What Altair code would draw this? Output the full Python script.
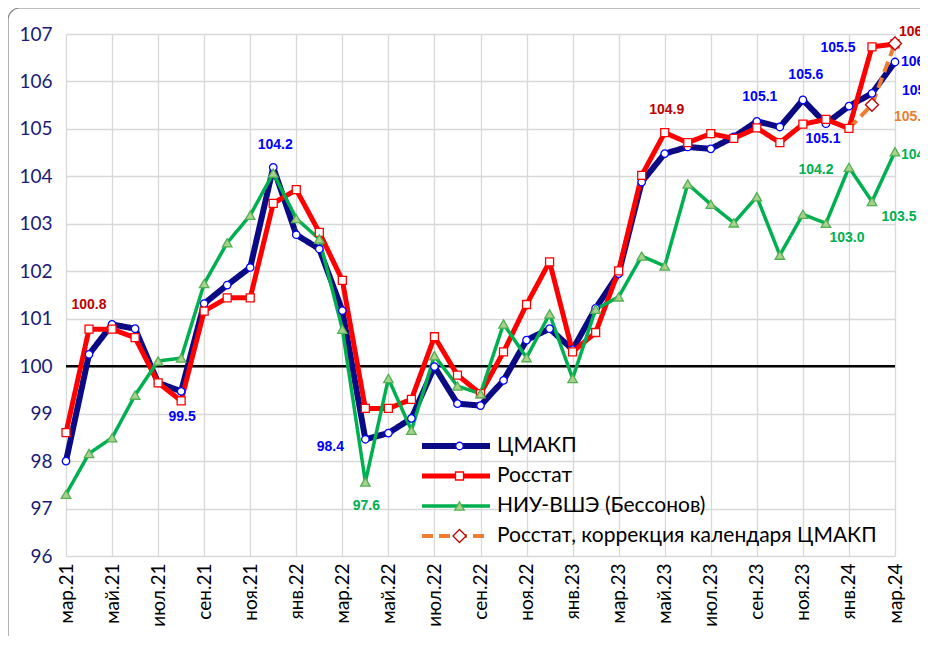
import altair as alt
import pandas as pd

months = ["мар.21", "апр.21", "май.21", "июн.21", "июл.21", "авг.21", "сен.21", "окт.21",
          "ноя.21", "дек.21", "янв.22", "фев.22", "мар.22", "апр.22", "май.22", "июн.22",
          "июл.22", "авг.22", "сен.22", "окт.22", "ноя.22", "дек.22", "янв.23", "фев.23",
          "мар.23", "апр.23", "май.23", "июн.23", "июл.23", "авг.23", "сен.23", "окт.23",
          "ноя.23", "дек.23", "янв.24", "фев.24", "мар.24"]
tick_labels = months[::2]
y_ticks = list(range(96, 108))

cmakp = [98.0, 100.25, 100.88, 100.79, 99.65, 99.47, 101.32, 101.71, 102.08, 104.19,
         102.77, 102.47, 101.17, 98.46, 98.59, 98.90, 99.99, 99.21, 99.17, 99.70,
         100.55, 100.79, 100.35, 101.22, 101.95, 103.88, 104.48, 104.62, 104.58, 104.83,
         105.16, 105.04, 105.61, 105.11, 105.48, 105.75, 106.41]
rosstat = [98.60, 100.78, 100.78, 100.60, 99.65, 99.27, 101.16, 101.44, 101.44, 103.43,
           103.72, 102.82, 101.81, 99.11, 99.11, 99.30, 100.62, 99.81, 99.42, 100.30,
           101.30, 102.20, 100.30, 100.71, 102.01, 104.02, 104.92, 104.71, 104.90, 104.80,
           105.02, 104.71, 105.10, 105.20, 105.01, 106.73, 106.79]
hse = [97.30, 98.16, 98.49, 99.39, 100.11, 100.17, 101.74, 102.60, 103.18, 104.07,
       103.11, 102.68, 100.78, 97.56, 99.74, 98.65, 100.22, 99.58, 99.42, 100.89,
       100.18, 101.10, 99.74, 101.20, 101.46, 102.32, 102.11, 103.84, 103.41, 103.02,
       103.57, 102.34, 103.20, 103.01, 104.19, 103.47, 104.52]
corr_months = ["янв.24", "фев.24", "мар.24"]
corr_vals = [105.01, 105.51, 106.80]
corr_marker_months = ["фев.24", "мар.24"]

S1 = "ЦМАКП"
S2 = "Росстат"
S3 = "НИУ-ВШЭ (Бессонов)"
S4 = "Росстат, коррекция календаря ЦМАКП"
series_names = [S1, S2, S3, S4]
marker_keys = ["m1", "m2", "m3", "m4"]

# annotations: series, month, text
ann_series = [S2, S1, S1, S1, S3, S2, S1, S1, S1, S1, S1, S1, S2, S4, S3, S3, S3, S3]
ann_month = ["апр.21", "авг.21", "дек.21", "апр.22", "апр.22", "май.23", "сен.23", "ноя.23",
             "дек.23", "янв.24", "фев.24", "мар.24", "мар.24", "фев.24", "янв.24", "дек.23",
             "фев.24", "мар.24"]
ann_text = ["100.8", "99.5", "104.2", "98.4", "97.6", "104.9", "105.1", "105.6", "105.1",
            "105.5", "105.7", "106.4", "106.8", "105.5", "104.2", "103.0", "103.5", "104.5"]

# ---- styles ----
line_colors = ["#0A0A84", "#FF0000", "#00B050", "#ED7D31"]
line_widths = [6, 5, 3.5, 4]
line_dashes = [[1, 0], [1, 0], [1, 0], [11, 6]]
mk_shapes = ["circle", "square", "triangle-up", "diamond"]
mk_strokes = ["#0000FF", "#FF0000", "#52B152", "#C00000"]
mk_fills = ["#FFFFFF", "#FFFFFF", "#A9D18E", "#FFFFFF"]
mk_sizes = [56, 64, 90, 170]
label_colors = {S1: "#0000FF", S2: "#C00000", S3: "#00B050", S4: "#ED7D31"}
ann_dx = [0, 1, 2, -35, 1, 2, 3, 3, -3, -11, 30, 6, 4, 22, -33, 21, 27, 6]
ann_dy = [-24, 26, -22, 8, 24, -23, -24, -25, 15, -58, -2, 0, -12, 12, 3, 15, 15, 3]
ann_align = ["center"] * 10 + ["left", "left", "left", "left", "center", "center", "center", "left"]

FONT = "Lato, 'Open Sans', sans-serif"
LFONT = "'Liberation Sans', Arial, sans-serif"

# ---- data tables ----
rows = []
for s, vals, mk in [(S1, cmakp, "m1"), (S2, rosstat, "m2"), (S3, hse, "m3")]:
    for m, v in zip(months, vals):
        rows.append(dict(month=m, value=v, series=s, mk=mk))
for m, v in zip(corr_months, corr_vals):
    rows.append(dict(month=m, value=v, series=S4, mk="m4"))
df = pd.DataFrame(rows)
pts = df[(df.series != S4) | (df.month.isin(corr_marker_months))]

series_lookup = {S1: cmakp, S2: rosstat, S3: hse}


def ann_value(s, m):
    if s == S4:
        return corr_vals[corr_months.index(m)]
    return series_lookup[s][months.index(m)]


xscale = alt.Scale(type="point", domain=months, padding=0)
yscale = alt.Scale(domain=[96, 107], nice=False, zero=False)

X = alt.X("month:N", scale=xscale,
          axis=alt.Axis(values=tick_labels, labelAngle=-90, title=None, grid=True,
                        gridColor="#D9D9D9", gridWidth=1.3, ticks=False, domain=False,
                        labelFont=FONT, labelFontSize=19, labelColor="#000000",
                        labelPadding=7))
Y = alt.Y("value:Q", scale=yscale,
          axis=alt.Axis(values=y_ticks, title=None, grid=True, gridColor="#D9D9D9",
                        gridWidth=1.3, ticks=False, domain=False, labelFont=FONT,
                        labelFontSize=19, labelColor="#1A1A7A", labelPadding=14))

line_legend = alt.Legend(title=None, orient="none", legendX=353, legendY=397,
                         symbolType="stroke", symbolSize=4624, clipHeight=30,
                         rowPadding=0, padding=0, labelFont=FONT, labelFontSize=21,
                         labelColor="#000000", labelOffset=4, labelLimit=0,
                         direction="vertical")
mk_legend = alt.Legend(title=None, orient="none", legendX=383, legendY=397,
                       clipHeight=30, rowPadding=0, padding=0, labelFontSize=21,
                       labelExpr="''", symbolStrokeWidth=1.3, direction="vertical")

frame = alt.Chart(pd.DataFrame({"k": [0]})).mark_rect(
    fillOpacity=0, stroke="#808080", strokeWidth=1.2, cornerRadius=12
).encode(x=alt.value(-58), x2=alt.value(900), y=alt.value(-26), y2=alt.value(700))

base_rule = alt.Chart(pd.DataFrame({"v": [100]})).mark_rule(
    color="#000000", strokeWidth=2.5
).encode(y=alt.Y("v:Q", scale=yscale))

lines = alt.Chart(df).mark_line(strokeJoin="round").encode(
    x=X, y=Y,
    color=alt.Color("series:N", scale=alt.Scale(domain=series_names, range=line_colors),
                    legend=line_legend),
    strokeDash=alt.StrokeDash("series:N",
                              scale=alt.Scale(domain=series_names, range=line_dashes),
                              legend=line_legend),
    strokeWidth=alt.StrokeWidth("series:N",
                                scale=alt.Scale(type="ordinal", domain=series_names,
                                                range=line_widths),
                                legend=line_legend),
)

points = alt.Chart(pts).mark_point(filled=False, opacity=1, strokeWidth=1.3).encode(
    x=alt.X("month:N", scale=xscale),
    y=alt.Y("value:Q", scale=yscale),
    shape=alt.Shape("mk:N", scale=alt.Scale(domain=marker_keys, range=mk_shapes),
                    legend=mk_legend),
    stroke=alt.Stroke("mk:N", scale=alt.Scale(domain=marker_keys, range=mk_strokes),
                      legend=mk_legend),
    fill=alt.Fill("mk:N", scale=alt.Scale(domain=marker_keys, range=mk_fills),
                  legend=mk_legend),
    size=alt.Size("mk:N", scale=alt.Scale(type="ordinal", domain=marker_keys,
                                          range=mk_sizes),
                  legend=mk_legend),
)

texts = []
for s, m, t, dx, dy, al in zip(ann_series, ann_month, ann_text, ann_dx, ann_dy, ann_align):
    d = pd.DataFrame({"month": [m], "value": [ann_value(s, m)], "label": [t]})
    texts.append(
        alt.Chart(d).mark_text(font=LFONT, fontSize=14, fontWeight="bold",
                               color=label_colors[s], dx=dx, dy=dy, align=al,
                               baseline="middle").encode(
            x=alt.X("month:N", scale=xscale),
            y=alt.Y("value:Q", scale=yscale),
            text="label:N")
    )

chart = alt.layer(frame, base_rule, lines, points, *texts).properties(
    width=829, height=522,
    autosize=alt.AutoSizeParams(type="none"),
    padding={"left": 58, "top": 26, "right": 25, "bottom": 80},
    background="#FFFFFF",
).configure_view(stroke=None)

chart.save("out.html", embed_options={"renderer": "svg", "actions": False})
